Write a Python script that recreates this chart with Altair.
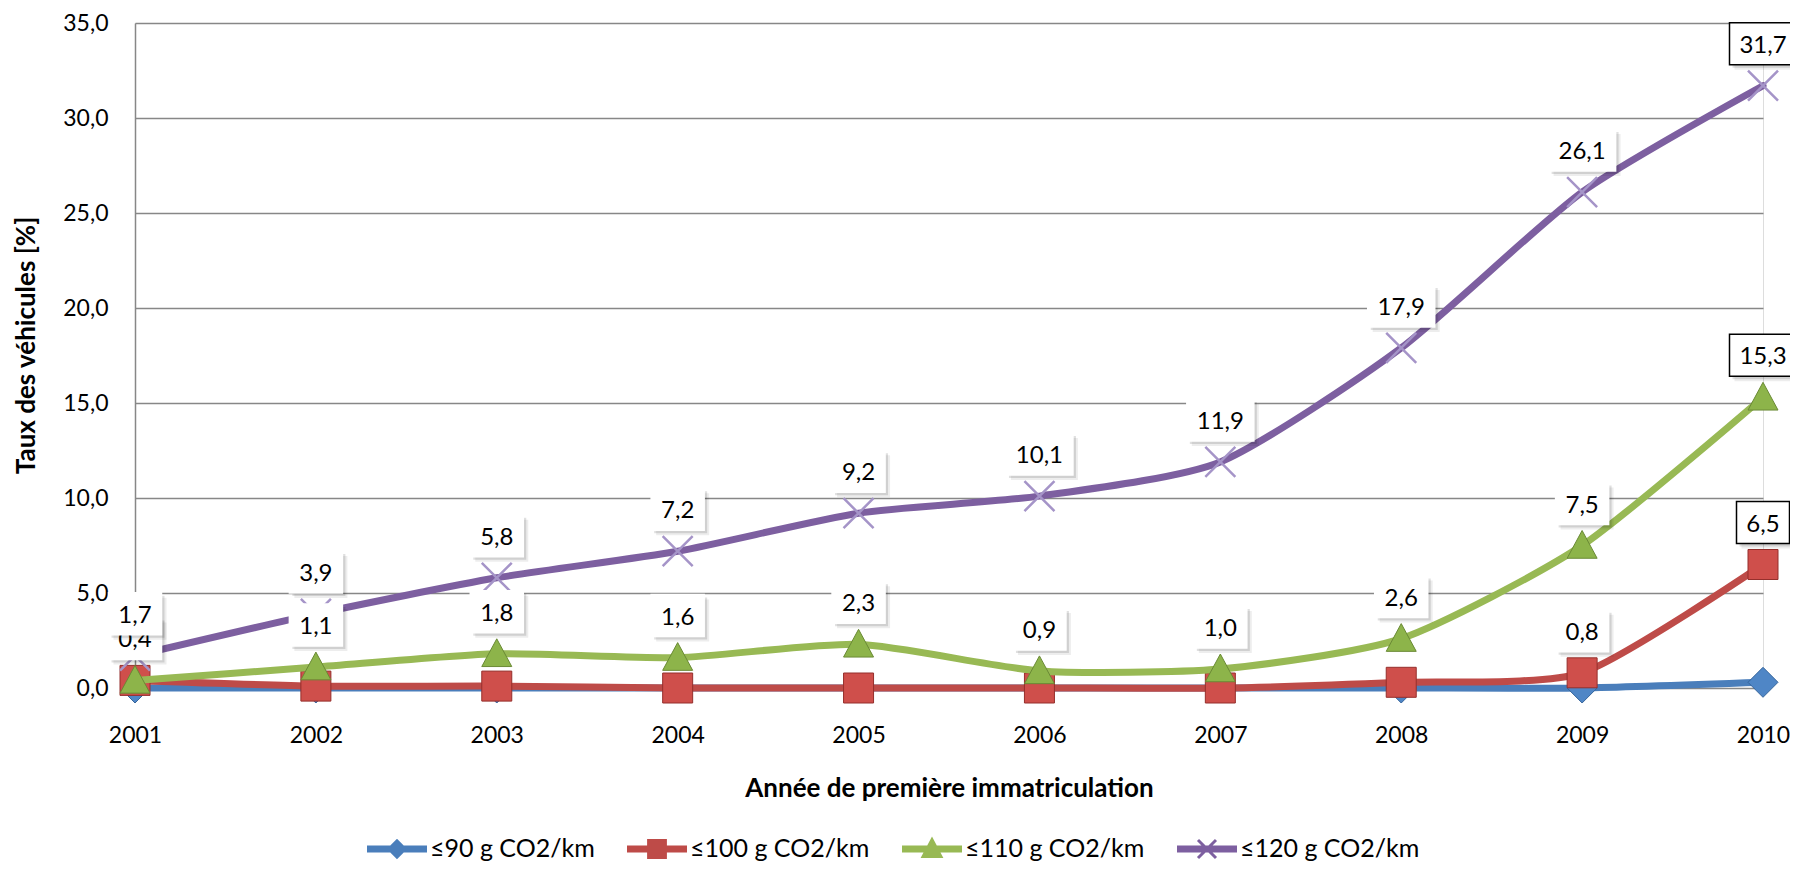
import altair as alt
import pandas as pd

# ---------------- data ----------------
years = [2001, 2002, 2003, 2004, 2005, 2006, 2007, 2008, 2009, 2010]
series_names = ["≤90 g CO2/km", "≤100 g CO2/km", "≤110 g CO2/km", "≤120 g CO2/km"]
v90 = [0.0, 0.0, 0.0, 0.0, 0.0, 0.0, 0.0, 0.0, 0.0, 0.3]
v100 = [0.4, 0.1, 0.1, 0.0, 0.0, 0.0, 0.0, 0.3, 0.8, 6.5]
v110 = [0.4, 1.1, 1.8, 1.6, 2.3, 0.9, 1.0, 2.6, 7.5, 15.3]
v120 = [1.7, 3.9, 5.8, 7.2, 9.2, 10.1, 11.9, 17.9, 26.1, 31.7]
lab90 = [False] * 10
lab100 = [False, False, False, False, False, False, False, False, True, True]
lab110 = [True] * 10
lab120 = [True] * 10
y_ticks = [0, 5, 10, 15, 20, 25, 30, 35]

values = [v90, v100, v110, v120]
labels = [lab90, lab100, lab110, lab120]

# ---------------- styles ----------------
line_colors = ["#4A7EBB", "#BE4B48", "#98B954", "#7D5FA0"]
marker_fill = ["#4F86C6", "#CF4F4B", "#8DB44A", "#A594C8"]
marker_stroke = ["#36659C", "#952F2C", "#6A8A35", "#A594C8"]
marker_shapes = [
    "diamond",
    "square",
    "M0,-1L1,0.85L-1,0.85Z",
    "M-1,-1L1,1M-1,1L1,-1",
]
legend_paths = [
    "M-1,-0.117L1,-0.117L1,0.117L-1,0.117Z M0,-0.34L0.34,0L0,0.34L-0.34,0Z",
    "M-1,-0.117L1,-0.117L1,0.117L-1,0.117Z M-0.33,-0.33L0.33,-0.33L0.33,0.33L-0.33,0.33Z",
    "M-1,-0.117L1,-0.117L1,0.117L-1,0.117Z M0,-0.42L0.38,0.3L-0.38,0.3Z",
    "M-1,-0.117L1,-0.117L1,0.117L-1,0.117Z "
    "M-0.335,-0.265L-0.265,-0.335L0.335,0.265L0.265,0.335Z "
    "M-0.265,0.335L-0.335,0.265L0.265,-0.335L0.335,-0.265Z",
]
# label boxes: (filter, path, size) for short and long numbers
box_kinds = [
    ("datum.value < 10", "M-1,-0.792L1,-0.792L1,0.792L-1,0.792Z", 53 * 53),
    ("datum.value >= 10", "M-1,-0.627L1,-0.627L1,0.627L-1,0.627Z", 67 * 67),
]

rows = []
for name, vals, labs in zip(series_names, values, labels):
    for yr, v, lb in zip(years, vals, labs):
        rows.append({
            "series": name,
            "year": yr,
            "value": v,
            "labeled": lb,
            "txt": f"{v:.1f}".replace(".", ","),
        })
df = pd.DataFrame(rows)

FONT = "Lato"

X = alt.X(
    "year:Q",
    scale=alt.Scale(domain=[2001, 2010], nice=False, zero=False),
    axis=alt.Axis(
        values=years, format="d", title="Année de première immatriculation",
        labelFont=FONT, labelFontSize=23, labelColor="black", labelPadding=47,
        labelBaseline="middle", labelFlush=False, labelOverlap=False,
        ticks=False, tickSize=0, domain=False, grid=False,
        titleFont=FONT, titleFontSize=26, titleFontWeight="bold", titleColor="black",
        titleY=100, titleBaseline="middle",
    ),
)
Y = alt.Y(
    "value:Q",
    scale=alt.Scale(domain=[0, 35], nice=False, zero=True),
    axis=alt.Axis(
        values=y_ticks, labelExpr="replace(format(datum.value, '.1f'), '.', ',')",
        title="Taux des véhicules [%]",
        labelFont=FONT, labelFontSize=23, labelColor="black", labelPadding=27,
        ticks=False, tickSize=0, domain=True, domainColor="#878787", domainWidth=1.5,
        grid=True, gridColor="#878787", gridWidth=1.5,
        titleFont=FONT, titleFontSize=26, titleFontWeight="bold", titleColor="black",
        titleX=-109, titleY=322, titleBaseline="middle", titleAngle=270,
    ),
)

base = alt.Chart(df)
layers = []

# lines + markers, series by series
for i, name in enumerate(series_names):
    sub = base.transform_filter(alt.datum.series == name)
    layers.append(
        sub.mark_line(interpolate="cardinal", tension=0.35, strokeWidth=7, color=line_colors[i],
                      strokeJoin="round", strokeCap="round").encode(x=X, y=Y)
    )
    if i < 3:
        layers.append(
            sub.mark_point(shape=marker_shapes[i], filled=True, size=900, opacity=1,
                           fill=marker_fill[i], stroke=marker_stroke[i], strokeWidth=1
                           ).encode(x=X, y=Y)
        )
    else:
        layers.append(
            sub.mark_point(shape=marker_shapes[i], filled=False, size=900, opacity=1,
                           stroke=marker_fill[i], strokeWidth=2.5).encode(x=X, y=Y)
        )

# data labels (box + shadow + text), series by series
for i, name in enumerate(series_names):
    if not any(labels[i]):
        continue
    sub = base.transform_filter((alt.datum.series == name) & alt.datum.labeled)
    for cond, path, sz in box_kinds:
        s2 = sub.transform_filter(cond)
        layers.append(
            s2.mark_point(shape=path, size=sz, filled=True, fill="#000000", opacity=1,
                          fillOpacity=0.07, strokeWidth=0, xOffset=5, yOffset=-37
                          ).encode(x=X, y=Y)
        )
        layers.append(
            s2.mark_point(shape=path, size=sz, filled=True, fill="#000000", opacity=1,
                          fillOpacity=0.12, strokeWidth=0, xOffset=3, yOffset=-39
                          ).encode(x=X, y=Y)
        )
        layers.append(
            s2.mark_point(shape=path, size=sz, filled=True, fill="white", opacity=1,
                          fillOpacity=1, strokeWidth=1.5, yOffset=-42).encode(
                x=X, y=Y,
                stroke=alt.condition("datum.year == 2010", alt.value("black"), alt.value("white")),
            )
        )
    layers.append(
        sub.mark_text(dy=-40, font=FONT, fontSize=24, color="black",
                      align="center", baseline="middle").encode(x=X, y=Y, text="txt:N")
    )

# legend carrier (no visible marks)
leg = dict(
    title=None, orient="none", legendX=232, legendY=796,
    direction="horizontal", columns=4, symbolSize=3600,
    symbolOpacity=1, symbolStrokeWidth=0,
    labelFont=FONT, labelFontSize=25, labelColor="black",
    labelOffset=3, columnPadding=32, labelLimit=400,
)
legend_layer = base.transform_filter("datum.year < 0").mark_point(filled=True, size=3600).encode(
    x=X, y=Y,
    color=alt.Color("series:N", scale=alt.Scale(domain=series_names, range=line_colors),
                    legend=alt.Legend(**leg)),
    shape=alt.Shape("series:N", scale=alt.Scale(domain=series_names, range=legend_paths),
                    legend=alt.Legend(**leg)),
)
layers.append(legend_layer)

chart = alt.layer(*layers).properties(
    width=1628, height=665,
    autosize=alt.AutoSizeParams(type="none"),
    padding={"left": 127, "top": 15, "right": 27, "bottom": 178},
).configure_view(strokeWidth=0).configure(font=FONT)

chart.save("out.html", embed_options={"renderer": "svg", "actions": False})
